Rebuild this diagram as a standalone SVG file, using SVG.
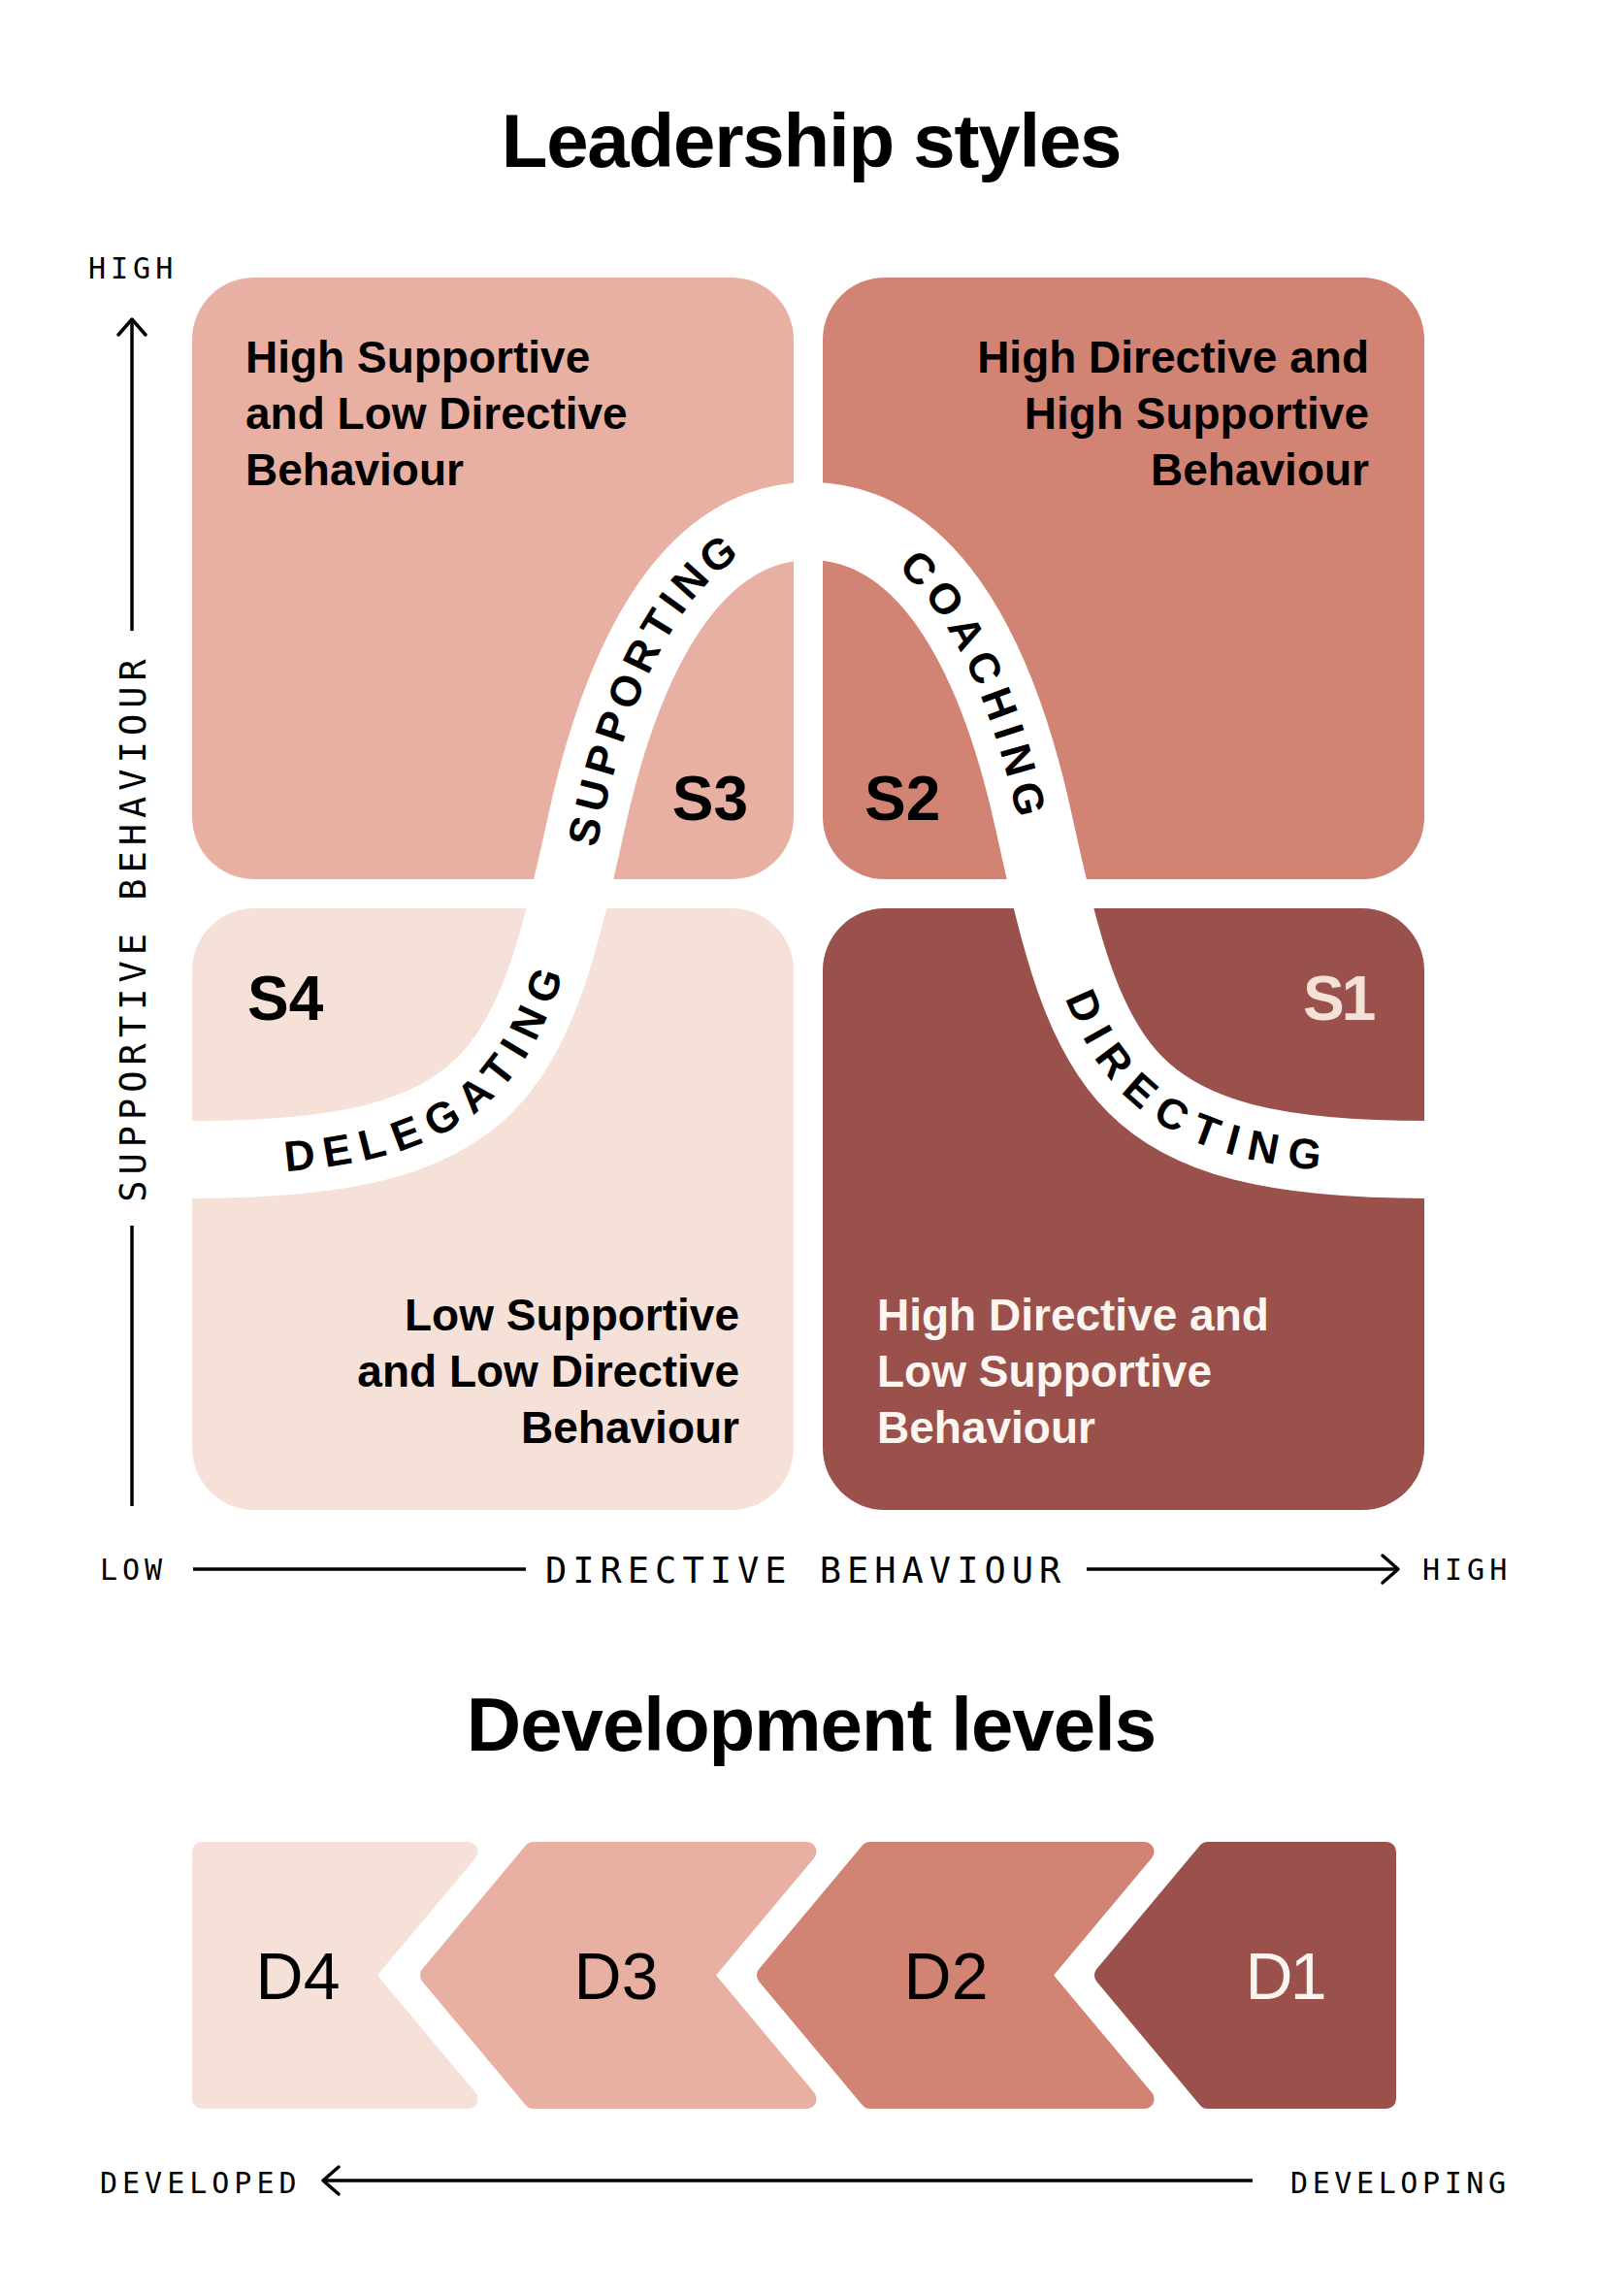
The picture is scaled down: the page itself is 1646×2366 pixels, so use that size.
<svg xmlns="http://www.w3.org/2000/svg" xmlns:xlink="http://www.w3.org/1999/xlink" width="1646" height="2366" viewBox="0 0 1646 2366">
<defs>
<style>
.title{font-family:"Liberation Sans",Arial,sans-serif;font-weight:700;font-size:78px;letter-spacing:-1.2px;text-anchor:middle;fill:#000}
.body{font-family:"Liberation Sans",Arial,sans-serif;font-weight:700;font-size:46px;fill:#000}
.light{fill:#fdf5f0}
.sl{font-family:"Liberation Sans",Arial,sans-serif;font-weight:700;font-size:64px;fill:#000}
.bandtxt{font-family:"Liberation Sans",Arial,sans-serif;font-weight:700;font-size:44px;fill:#000}
.dl{font-family:"Liberation Sans",Arial,sans-serif;font-weight:400;font-size:68px;text-anchor:middle;fill:#000}
.ax{font-family:"DejaVu Sans Mono",monospace;font-size:30px;letter-spacing:5px;fill:#000}
.axl{font-family:"DejaVu Sans Mono",monospace;font-size:37px;letter-spacing:6px;fill:#000}
.axis{stroke:#000;stroke-width:3.5;fill:none}
.c4{fill:#f6e1d9}
.c3{fill:#e8b0a3}
.c2{fill:#d28474}
.c1{fill:#9a514b}
.chev{stroke-width:20;stroke-linejoin:round}
.chev.c4{stroke:#f6e1d9}
.chev.c3{stroke:#e8b0a3}
.chev.c2{stroke:#d28474}
.chev.c1{stroke:#9a514b}
</style>
<marker id="arr" viewBox="-20 -18 24 36" refX="0" refY="0" markerWidth="24" markerHeight="36" markerUnits="userSpaceOnUse" orient="auto" overflow="visible">
<path d="M-16,-14 L0,0 L-16,14" fill="none" stroke="#000" stroke-width="3.5" stroke-linecap="round" stroke-linejoin="round"/>
</marker>
<path id="bandpath" d="M150,1195 L198,1195 C518,1195 548,1105 605,845 C638,695 705,537 835,537 C965,537 1032,695 1065,845 C1122,1105 1152,1195 1472,1195 L1520,1195"/>
</defs>
<rect width="1646" height="2366" fill="#fff"/>

<text class="title" x="836" y="172">Leadership styles</text>

<g id="q-s3">
<rect class="c3" x="198" y="286" width="620" height="620" rx="64"/>
<text class="body" x="253" y="384"><tspan x="253">High Supportive</tspan><tspan x="253" dy="58">and Low Directive</tspan><tspan x="253" dy="58">Behaviour</tspan></text>
<text class="sl" x="771" y="845" text-anchor="end">S3</text>
</g>
<g id="q-s2">
<rect class="c2" x="848" y="286" width="620" height="620" rx="64"/>
<text class="body" x="1411" y="384" text-anchor="end"><tspan x="1411">High Directive and</tspan><tspan x="1411" dy="58">High Supportive</tspan><tspan x="1411" dy="58">Behaviour</tspan></text>
<text class="sl" x="891" y="845">S2</text>
</g>
<g id="q-s4">
<rect class="c4" x="198" y="936" width="620" height="620" rx="64"/>
<text class="body" x="762" y="1371" text-anchor="end"><tspan x="762">Low Supportive</tspan><tspan x="762" dy="58">and Low Directive</tspan><tspan x="762" dy="58">Behaviour</tspan></text>
<text class="sl" x="255" y="1051">S4</text>
</g>
<g id="q-s1">
<rect class="c1" x="848" y="936" width="620" height="620" rx="64"/>
<text class="body light" x="904" y="1371"><tspan x="904">High Directive and</tspan><tspan x="904" dy="58">Low Supportive</tspan><tspan x="904" dy="58">Behaviour</tspan></text>
<text class="sl" x="1343" y="1051" style="fill:#f6e1d9;letter-spacing:-3px">S1</text>
</g>

<g id="band">
<use xlink:href="#bandpath" href="#bandpath" fill="none" stroke="#fff" stroke-width="80"/>
<text class="bandtxt" dy="15.5" style="letter-spacing:8.5px"><textPath xlink:href="#bandpath" href="#bandpath" startOffset="328" text-anchor="middle">DELEGATING</textPath></text>
<text class="bandtxt" dy="15.5" style="letter-spacing:7px"><textPath xlink:href="#bandpath" href="#bandpath" startOffset="818" text-anchor="middle">SUPPORTING</textPath></text>
<text class="bandtxt" dy="15.5" style="letter-spacing:8.5px"><textPath xlink:href="#bandpath" href="#bandpath" startOffset="1341" text-anchor="middle">COACHING</textPath></text>
<text class="bandtxt" dy="15.5" style="letter-spacing:10px"><textPath xlink:href="#bandpath" href="#bandpath" startOffset="1841" text-anchor="middle">DIRECTING</textPath></text>
</g>

<g id="axes">
<path class="axis" d="M136,650 L136,329" marker-end="url(#arr)"/>
<path class="axis" d="M136,1263 L136,1552"/>
<path class="axis" d="M199,1617 L542,1617"/>
<path class="axis" d="M1120,1617 L1441,1617" marker-end="url(#arr)"/>
<path class="axis" d="M1291,2247 L333,2247" marker-end="url(#arr)"/>
</g>
<text class="ax" x="91" y="287">HIGH</text>
<text class="axl" transform="translate(150,959) rotate(-90)" x="3" y="0" text-anchor="middle">SUPPORTIVE BEHAVIOUR</text>
<text class="ax" x="103" y="1628">LOW</text>
<text class="axl" x="562" y="1631">DIRECTIVE BEHAVIOUR</text>
<text class="ax" x="1466" y="1628">HIGH</text>

<text class="title" x="836" y="1804" style="letter-spacing:-1px">Development levels</text>

<g id="d4">
<path class="c4 chev" d="M208,1908 L482.6,1908 L376,2035.5 L482.6,2163 L208,2163 Z"/>
<text class="dl" x="307" y="2060">D4</text>
</g>
<g id="d3">
<path class="c3 chev" d="M549.6,1908 L831.6,1908 L725,2035.5 L831.6,2163 L549.6,2163 L443,2035.5 Z"/>
<text class="dl" x="635" y="2060">D3</text>
</g>
<g id="d2">
<path class="c2 chev" d="M896.6,1908 L1179.6,1908 L1073,2035.5 L1179.6,2163 L896.6,2163 L790,2035.5 Z"/>
<text class="dl" x="975" y="2060">D2</text>
</g>
<g id="d1">
<path class="c1 chev" d="M1244.6,1908 L1429,1908 L1429,2163 L1244.6,2163 L1138,2035.5 Z"/>
<text class="dl" x="1324" y="2060" style="fill:#fdf5f0;letter-spacing:-3px">D1</text>
</g>

<text class="ax" x="103" y="2260">DEVELOPED</text>
<text class="ax" x="1330" y="2260" style="letter-spacing:4.6px">DEVELOPING</text>
</svg>
